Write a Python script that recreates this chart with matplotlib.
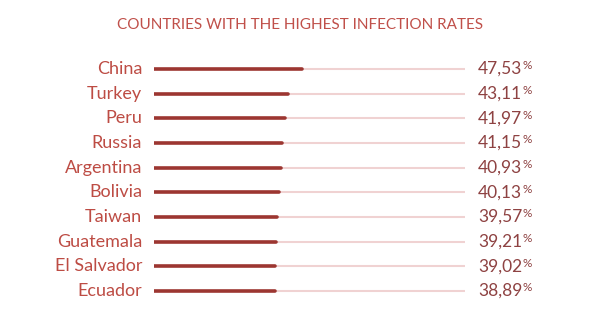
import matplotlib.pyplot as plt

countries = ["China", "Turkey", "Peru", "Russia", "Argentina", "Bolivia",
             "Taiwan", "Guatemala", "El Salvador", "Ecuador"]
rates = [47.53, 43.11, 41.97, 41.15, 40.93, 40.13, 39.57, 39.21, 39.02, 38.89]
labels = ["47,53", "43,11", "41,97", "41,15", "40,93", "40,13",
          "39,57", "39,21", "39,02", "38,89"]

plt.rcParams['font.family'] = ['Lato', 'DejaVu Sans']

W, H = 600, 330
fig = plt.figure(figsize=(W / 100, H / 100), dpi=100)
fig.patch.set_facecolor('white')

# track spans 154..465 px, rows from 69 to 291 px
x0, x1 = 154, 465
top, step = 69, (291 - 69) / 9
ax = fig.add_axes([x0 / W, 0, (x1 - x0) / W, 1])
ax.set_xlim(0, 100)
ax.set_ylim((H - top) / step, -top / step)
ax.axis('off')

bar_color = '#9c3631'
track_color = '#f0d2d2'
label_color = '#bd4c44'
value_color = '#8e4242'

for i, (c, r, lab) in enumerate(zip(countries, rates, labels)):
    ax.plot([0, 100], [i, i], color=track_color, lw=1.5,
            solid_capstyle='butt', zorder=1)
    ax.plot([0, r], [i, i], color=bar_color, lw=2.6,
            solid_capstyle='round', zorder=2)
    ax.text(-3.8, i, c, ha='right', va='center', fontsize=13,
            color=label_color)
    t = ax.text(104.2, i, lab, ha='left', va='center', fontsize=12.5,
                color=value_color)
    ax.annotate('%', xy=(1, 1.0), xycoords=t, xytext=(0.3, 0.5),
                textcoords='offset points', ha='left', va='top',
                fontsize=8.5, color=value_color)

fig.text(0.5, 1 - 25 / H, "COUNTRIES WITH THE HIGHEST INFECTION RATES",
         ha='center', va='center', fontsize=11, color='#c0504a')

fig.savefig('out.png', dpi=100, facecolor='white')
